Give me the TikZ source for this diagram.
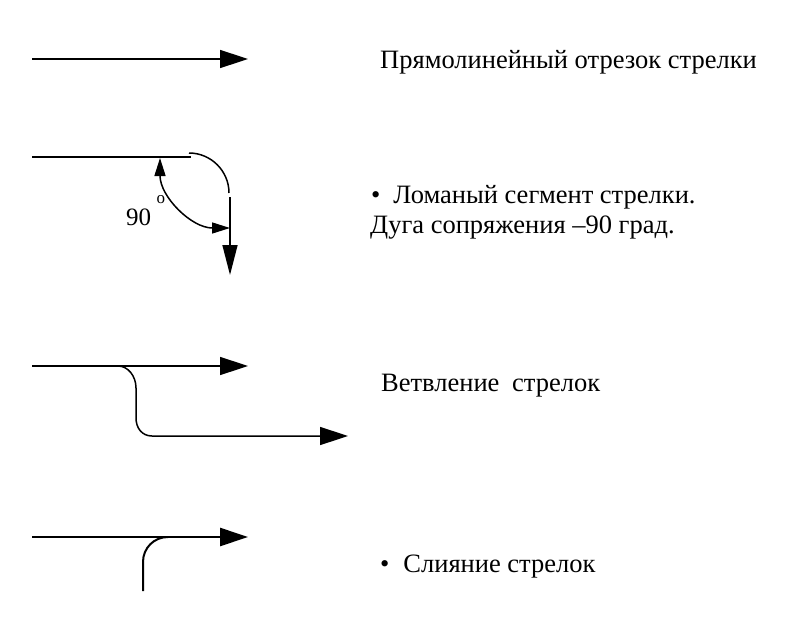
\documentclass[tikz,border=0pt]{standalone}
\usepackage{fontspec}
\setmainfont{Liberation Serif}
\usetikzlibrary{arrows.meta}
\begin{document}
\begin{tikzpicture}[x=1pt,y=-1pt,
  flow/.style={line width=1.5pt},
  bigtip/.style={-{Triangle[length=28pt,width=18pt]}},
  angtip/.style={{Triangle[length=18pt,width=11pt]}-{Triangle[length=18pt,width=11pt]}},
  label/.style={anchor=base west,inner sep=0pt,font=\fontsize{26.5}{30}\selectfont}]
\useasboundingbox (0,0) rectangle (785,643);

% straight arrow segment
\coordinate (s1a) at (32,59);
\coordinate (s1b) at (248,59);
\draw[flow,bigtip] (s1a) -- (s1b);
\node[label] (t1) at (380,68) {Прямолинейный отрезок стрелки};

% bent arrow segment with a 90 degree joining arc
\coordinate (s2a) at (32,157);
\coordinate (s2b) at (191,157);
\coordinate (c2a) at (189,153);
\coordinate (c2b) at (229,193);
\coordinate (v2a) at (230,197);
\coordinate (v2b) at (230,275);
\draw[flow] (s2a) -- (s2b);
\draw[flow] (c2a) .. controls (211,153) and (229,171) .. (c2b);
\draw[flow,-{Triangle[length=30pt,width=15pt]}] (v2a) -- (v2b);
\coordinate (g2a) at (160,158);
\coordinate (g2b) at (230,228);
\draw[flow,angtip] (g2a) .. controls (160,196.6) and (191.4,228) .. (g2b);
\node[label,font=\fontsize{25}{28}\selectfont] (deg90) at (126,225) {90};
\node[anchor=base west,inner sep=0pt,font=\fontsize{17}{19}\selectfont] (degsym) at (156.5,203) {o};
\node[label] (t2a) at (371,203) {•\hspace{13pt}Ломаный сегмент стрелки.};
\node[label] (t2b) at (370,233) {Дуга сопряжения –90 град.};

% branching of arrows
\coordinate (s3a) at (32,366);
\coordinate (s3b) at (248,366);
\coordinate (b3a) at (118,366);
\coordinate (b3b) at (136,388);
\coordinate (b3c) at (136,418);
\coordinate (b3d) at (152,436);
\coordinate (b3e) at (348,436);
\draw[flow,bigtip] (s3a) -- (s3b);
\draw[flow,bigtip] (b3a) .. controls (128,366) and (136,376) .. (b3b)
  -- (b3c) .. controls (136,428) and (142,436) .. (b3d) -- (b3e);
\node[label] (t3) at (381,391) {Ветвление\hspace{6pt} стрелок};

% merging of arrows
\coordinate (s4a) at (32,537);
\coordinate (s4b) at (248,537);
\coordinate (m4a) at (168,537);
\coordinate (m4b) at (143,562);
\coordinate (m4c) at (143,591);
\draw[line width=2.6pt,bigtip] (s4a) -- (s4b);
\draw[line width=2pt] (m4a) .. controls (154,537) and (143,548) .. (m4b) -- (m4c);
\node[label] (t4) at (380,572) {•\hspace{14pt}Слияние стрелок};
\end{tikzpicture}
\end{document}
